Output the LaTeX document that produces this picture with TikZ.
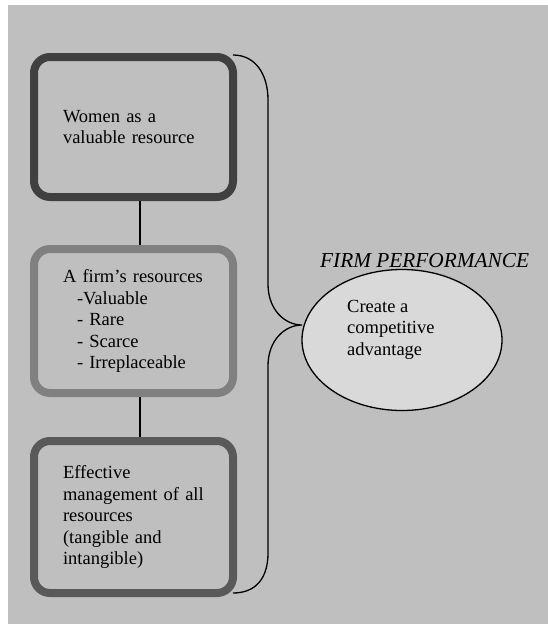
\documentclass[tikz,border=0pt]{standalone}
\usepackage{fontspec}
\setmainfont{Liberation Serif}
\usepackage{xcolor}
\usepackage{tikz}
\usetikzlibrary{calc}
\usetikzlibrary{shapes}
\usetikzlibrary{shapes.geometric}
\usetikzlibrary{positioning}
\definecolor{panel}{HTML}{BFBFBF}
\definecolor{boxdark}{HTML}{404040}
\definecolor{boxmid}{HTML}{808080}
\definecolor{boxlow}{HTML}{595959}
\definecolor{ovalfill}{HTML}{D9D9D9}
\tikzstyle{res} = [rectangle, rounded corners=16pt, line width=8pt, minimum width=199pt, text width=141pt, align=left, inner sep=0pt, font=\fontsize{18.5}{21.5}\selectfont]
\tikzstyle{link} = [-, line width=1.3pt, draw=black]

\begin{document}
\begin{tikzpicture}[x=1pt, y=-1pt]
\useasboundingbox (0,0) rectangle (548,624);
\fill [panel] (8,5) rectangle (548,624);
\node [res, draw=boxdark, minimum height=140pt] (women) at (133.5, 127) {Women as a\\valuable resource};
\node [res, draw=boxmid, minimum height=144pt] (firm) at (133.5, 321) {A firm’s resources\\\hspace*{14pt}-Valuable\\\hspace*{14pt}- Rare\\\hspace*{14pt}- Scarce\\\hspace*{14pt}- Irreplaceable};
\node [res, draw=boxlow, minimum height=152pt] (manage) at (133.5, 517) {Effective\\management of all\\resources\\(tangible and\\intangible)};
\node [ellipse, draw=black, line width=1.3pt, fill=ovalfill, minimum width=200pt, minimum height=141pt] (adv) at (402, 340) {};
\node [anchor=north west, align=left, inner sep=0pt, font=\fontsize{18.5}{21.5}\selectfont] (advtext) at (347, 300) {Create a\\competitive\\advantage};
\node [anchor=base west, inner sep=0pt, font=\fontsize{21.3}{24}\selectfont\itshape] (perf) at (320, 267) {FIRM PERFORMANCE};
\coordinate (btop) at (233, 55);
\coordinate (bbot) at (233, 593);
\coordinate (tip) at (302, 325);
\draw [link] ([xshift=6.5pt]women.south) to ([xshift=6.5pt]firm.north);
\draw [link] ([xshift=6.5pt]firm.south) to ([xshift=6.5pt]manage.north);
\draw [link] (btop) .. controls (256, 55) and (268, 75) .. (268, 100) -- (268, 284) .. controls (268, 310) and (285, 325) .. (tip) .. controls (285, 325) and (268, 340) .. (268, 366) -- (268, 553) .. controls (268, 578) and (256, 593) .. (bbot);
\end{tikzpicture}
\end{document}
